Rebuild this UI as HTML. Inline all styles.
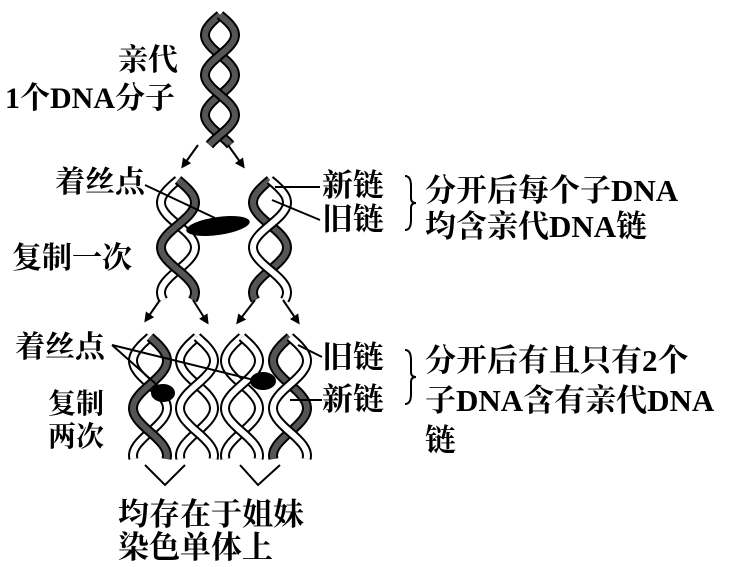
<!DOCTYPE html>
<html><head><meta charset="utf-8"><style>
body{margin:0;background:#fff;width:750px;height:567px;overflow:hidden}
svg{position:absolute;left:0;top:0}
.t{font-family:"Liberation Serif","Noto Serif CJK SC",serif;font-weight:bold;fill:#000}
</style></head><body>
<svg id="s" width="750" height="567" viewBox="0 0 750 567">
<defs><marker id="ar" markerWidth="10" markerHeight="10" refX="7" refY="5" orient="auto" markerUnits="userSpaceOnUse"><path d="M0,0 L10,5 L0,10 Z" fill="#000"/></marker></defs>
<g id="h"></g>
<g stroke="#000" stroke-width="2" fill="none">
<line x1="198" y1="145" x2="183" y2="166" marker-end="url(#ar)"/>
<line x1="228" y1="145" x2="243" y2="166" marker-end="url(#ar)"/>
<line x1="160" y1="300" x2="146" y2="320" marker-end="url(#ar)"/>
<line x1="193" y1="300" x2="207" y2="322" marker-end="url(#ar)"/>
<line x1="255" y1="300" x2="238" y2="322" marker-end="url(#ar)"/>
<line x1="283" y1="300" x2="298" y2="322" marker-end="url(#ar)"/>
<polyline points="145,465 165,485 185,465"/>
<polyline points="240,465 258,485 280,465"/>
<line x1="145" y1="185" x2="215" y2="218"/>
<line x1="320" y1="187" x2="275" y2="187"/>
<line x1="320" y1="220" x2="272" y2="200"/>
<line x1="112" y1="345" x2="165" y2="392"/>
<line x1="112" y1="345" x2="262" y2="382"/>
<line x1="322" y1="357" x2="298" y2="345"/>
<line x1="322" y1="400" x2="290" y2="400"/>
<path d="M405,176 q6,0 6,10 v12 q0,5 5,5 q-5,0 -5,5 v12 q0,10 -6,10"/>
<path d="M405,350 q6,0 6,10 v12 q0,5 5,5 q-5,0 -5,5 v12 q0,10 -6,10"/>
</g>
<ellipse cx="218" cy="226" rx="32" ry="9" transform="rotate(-8 218 226)" fill="#000"/>
<ellipse cx="163" cy="393" rx="12" ry="9" fill="#000"/>
<ellipse cx="263" cy="381" rx="13" ry="9" fill="#000"/>
<g class="t" font-size="30">
<text x="118" y="70">亲代</text>
<text x="5" y="108">1个DNA分子</text>
<text x="55" y="192">着丝点</text>
<text x="12" y="268">复制一次</text>
<text x="322" y="196" font-size="31">新链</text>
<text x="322" y="230" font-size="31">旧链</text>
<text x="15" y="357">着丝点</text>
<text x="322" y="368" font-size="31">旧链</text>
<text x="322" y="410" font-size="31">新链</text>
<text x="48" y="413" font-size="28">复制</text>
<text x="48" y="446" font-size="28">两次</text>
<text x="118" y="525" font-size="31">均存在于姐妹</text>
<text x="118" y="558" font-size="31">染色单体上</text>
<text x="425" y="201" font-size="31">分开后每个子DNA</text>
<text x="425" y="237" font-size="31">均含亲代DNA链</text>
<text x="425" y="371" font-size="31">分开后有且只有2个</text>
<text x="425" y="411" font-size="31">子DNA含有亲代DNA</text>
<text x="425" y="451" font-size="31">链</text>
</g>
</svg>
<script>
var g=document.getElementById('h'),NS='http://www.w3.org/2000/svg';
function strand(cx,y0,y1,A,P,ph,col){
 var d='';for(var y=y0;y<=y1;y+=2){var x=cx+A*Math.sin(2*Math.PI*(y-y0)/P+ph);d+=(y==y0?'M':'L')+x.toFixed(1)+','+y;}
 var p=document.createElementNS(NS,'path');p.setAttribute('d',d);p.setAttribute('fill','none');p.setAttribute('stroke','#000');p.setAttribute('stroke-width','10');g.appendChild(p);
 p=document.createElementNS(NS,'path');p.setAttribute('d',d);p.setAttribute('fill','none');p.setAttribute('stroke',col);p.setAttribute('stroke-width','6');g.appendChild(p);
}
function helix(cx,y0,y1,A,P,c1,c2){strand(cx,y0,y1,A,P,Math.PI,c2);strand(cx,y0,y1,A,P,0,c1);}
var D='#555',W='#fff';
helix(220,15,145,15,80,D,D);
helix(178,180,300,17,90,D,W);
helix(270,180,300,17,90,W,D);
helix(150,337,460,17,95,D,W);
helix(197,337,460,17,95,W,W);
helix(242,337,460,17,95,W,W);
helix(290,337,460,17,95,W,D);
</script>
</body></html>
